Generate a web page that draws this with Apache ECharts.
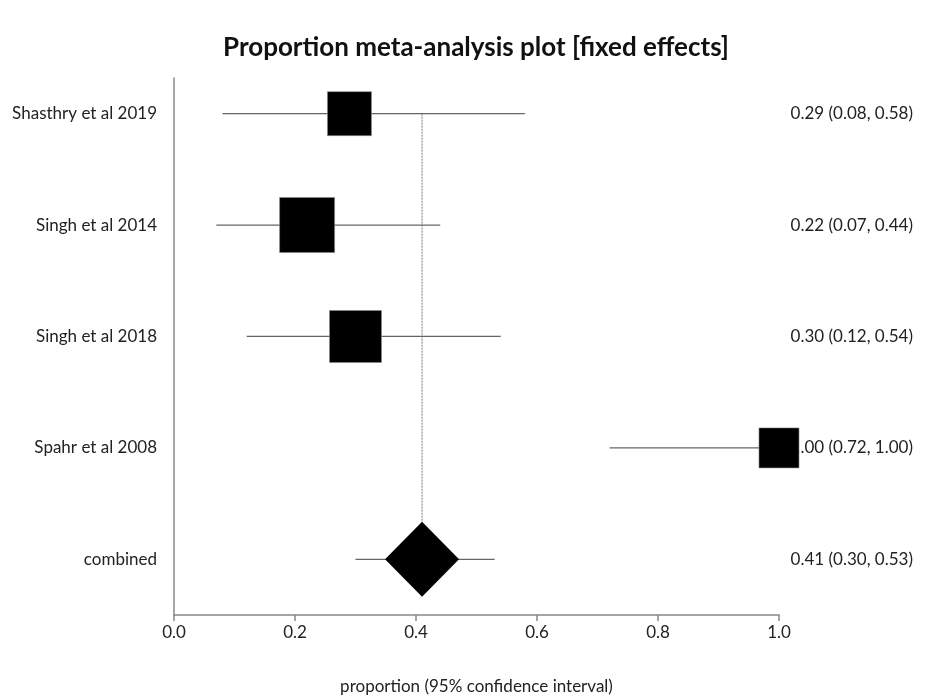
<!DOCTYPE html>
<html>
<head>
<meta charset="utf-8">
<script src="https://cdn.jsdelivr.net/npm/echarts@6/dist/echarts.min.js"></script>
<style>html,body{margin:0;padding:0;background:#fff}#c{width:925px;height:695px}</style>
</head>
<body>
<div id="c"></div>
<script>
const studies = ['Shasthry et al 2019', 'Singh et al 2014', 'Singh et al 2018', 'Spahr et al 2008'];
const estimates = [0.29, 0.22, 0.30, 1.00];
const lowerCI = [0.08, 0.07, 0.12, 0.72];
const upperCI = [0.58, 0.44, 0.54, 1.00];
const weights = [20.9, 32.7, 29.2, 17.3];
const pooledLabel = 'combined';
const pooledEstimate = 0.41;
const pooledLower = 0.30;
const pooledUpper = 0.53;
const xTicks = [0.0, 0.2, 0.4, 0.6, 0.8, 1.0];

const FONT = 'Lato';
const n = studies.length;
const rowOf = i => n - i + 1;
const names = {}; const ciText = {};
studies.forEach((s, i) => {
  names[rowOf(i)] = s;
  ciText[rowOf(i)] = estimates[i].toFixed(2) + ' (' + lowerCI[i].toFixed(2) + ', ' + upperCI[i].toFixed(2) + ')';
});
names[1] = pooledLabel;
ciText[1] = pooledEstimate.toFixed(2) + ' (' + pooledLower.toFixed(2) + ', ' + pooledUpper.toFixed(2) + ')';

const isInt = v => Math.abs(v - Math.round(v)) < 1e-6;

const whiskerData = studies.map((s, i) => [lowerCI[i], upperCI[i], rowOf(i)]);
whiskerData.push([pooledLower, pooledUpper, 1]);
const squareData = studies.map((s, i) => ({ value: [estimates[i], rowOf(i)], symbolSize: Math.sqrt(weights[i]) * 9.62 }));

const chart = echarts.init(document.getElementById('c'));
chart.setOption({
  animation: false,
  backgroundColor: '#fff',
  title: {
    text: 'Proportion meta-analysis plot [fixed effects]',
    left: 218, top: 30,
    textStyle: { fontFamily: FONT, fontWeight: 'bold', fontSize: 26, color: '#111' }
  },
  grid: { left: 174, right: 146, top: 78, bottom: 80, containLabel: false, outerBoundsMode: 'none' },
  xAxis: {
    type: 'value', min: 0, max: 1, interval: 0.2,
    name: 'proportion (95% confidence interval)', nameLocation: 'middle', nameGap: 63,
    nameTextStyle: { fontFamily: FONT, fontSize: 17, color: '#222' },
    axisLine: { show: true, lineStyle: { color: '#888', width: 1.5 } },
    axisTick: { show: true, length: 6, lineStyle: { color: '#888', width: 1.5 } },
    axisLabel: { formatter: v => v.toFixed(1), fontFamily: FONT, fontSize: 17, color: '#222', margin: 9 },
    splitLine: { show: false }
  },
  yAxis: [{
    type: 'value', min: 0.5, max: 5.32, interval: 0.5,
    axisLine: { show: true, lineStyle: { color: '#888', width: 1.5 } },
    axisTick: { show: false },
    splitLine: { show: false },
    axisLabel: { formatter: v => isInt(v) && names[Math.round(v)] ? names[Math.round(v)] : '', fontFamily: FONT, fontSize: 17, color: '#222', margin: 17 }
  }, {
    type: 'value', min: 0.5, max: 5.32, interval: 0.5, position: 'right',
    axisLine: { show: false }, axisTick: { show: false }, splitLine: { show: false },
    axisLabel: { formatter: v => isInt(v) && ciText[Math.round(v)] ? ciText[Math.round(v)] : '', align: 'right', margin: 134, fontFamily: FONT, fontSize: 17, color: '#222' }
  }],
  series: [
    {
      type: 'custom', z: 1,
      data: [[pooledEstimate, rowOf(0), 1]],
      renderItem: (params, api) => {
        const a = api.coord([api.value(0), api.value(1)]);
        const b = api.coord([api.value(0), api.value(2)]);
        return { type: 'line', shape: { x1: a[0], y1: a[1], x2: b[0], y2: b[1] }, style: { stroke: '#777', lineWidth: 1, lineDash: [2, 1] } };
      }
    },
    {
      type: 'custom', z: 2,
      data: whiskerData,
      renderItem: (params, api) => {
        const a = api.coord([api.value(0), api.value(2)]);
        const b = api.coord([api.value(1), api.value(2)]);
        return { type: 'line', shape: { x1: a[0], y1: a[1], x2: b[0], y2: b[1] }, style: { stroke: '#666', lineWidth: 1.2 } };
      }
    },
    {
      type: 'scatter', z: 3, symbol: 'rect',
      itemStyle: { color: '#000', borderColor: '#888', borderWidth: 0.6, opacity: 1 },
      data: squareData
    },
    {
      type: 'scatter', z: 3, symbol: 'diamond', symbolSize: [74, 75],
      itemStyle: { color: '#000', opacity: 1 },
      data: [[pooledEstimate, 1]]
    }
  ]
});
</script>
</body>
</html>
